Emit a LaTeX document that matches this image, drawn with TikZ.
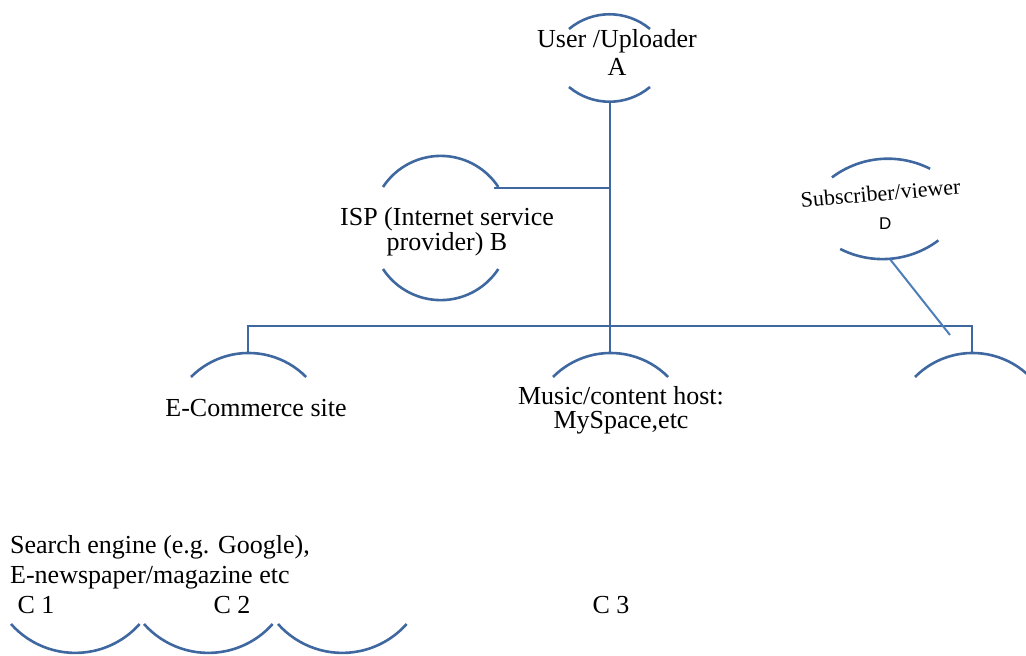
\documentclass[tikz,border=0pt]{standalone}
\usepackage{fontspec}
\setmainfont{Liberation Serif}
\newfontfamily\labelsans{Liberation Sans}
\definecolor{arcblue}{RGB}{64,104,160}
\definecolor{linkblue}{RGB}{78,126,186}

\begin{document}
\begin{tikzpicture}[x=1pt,y=-1pt,
    arcline/.style={draw=arcblue,line width=2.6pt},
    linkline/.style={draw=linkblue,line width=2pt},
    every node/.style={inner sep=0pt,font=\fontsize{26}{28}\selectfont}]
    \useasboundingbox (0,0) rectangle (1026,656);
    % user / uploader
    \draw[arcline] (569,29) arc[start angle=230,end angle=310,radius=63];
    \draw[arcline] (569,87) arc[start angle=130,end angle=50,radius=63];
    \node[align=center] (userA) at (617,52) {User /Uploader\\A};
    \coordinate (abot) at (610,101);
    % isp
    \draw[arcline] (383,187) arc[start angle=213.3,end angle=326.7,radius=69];
    \draw[arcline] (383,269) arc[start angle=146.7,end angle=33.3,radius=69];
    \node[align=center,font=\fontsize{26}{20}\selectfont] (ispB) at (447,232) {ISP (Internet service\\provider) B};
    \coordinate (bedge) at (494,188);
    \coordinate (bjoin) at (610,188);
    % subscriber
    \begin{scope}[rotate around={5:(884,210)}]
        \draw[arcline] (835,173) arc[start angle=238,end angle=302,radius=93];
        \draw[arcline] (837,245) arc[start angle=122,end angle=58,radius=93];
        \node[rotate=5,font=\fontsize{22}{24}\selectfont] (subD) at (882,193) {Subscriber/viewer};
        \node[font=\labelsans\fontsize{17}{20}\selectfont] (letterD) at (884,224) {D};
        \coordinate (dbot) at (886,260);
    \end{scope}
    \coordinate (dend) at (950,335);
    % hosts
    \draw[arcline] (191,377) arc[start angle=224.7,end angle=315.3,radius=81];
    \draw[arcline] (553,377) arc[start angle=224.7,end angle=315.3,radius=81];
    \draw[arcline] (915,377) arc[start angle=224.7,end angle=315.3,radius=81];
    \node (ecom) at (256,408) {E-Commerce site};
    \node[align=center,font=\fontsize{26}{24}\selectfont] (music) at (621,410) {Music/content host:\\MySpace,etc};
    \coordinate (hub) at (610,326);
    \coordinate (ectop) at (248,353);
    \coordinate (mutop) at (610,353);
    \coordinate (rtop) at (972,353);
    % search engines
    \node[anchor=west,align=left,font=\fontsize{26}{30}\selectfont] (search) at (10,562) {Search engine (e.g. Google),\\E-newspaper/magazine etc};
    \node (c1) at (36,605) {C 1};
    \node (c2) at (232,605) {C 2};
    \node (c3) at (611,605) {C 3};
    \foreach \x in {11,144,278}
        \draw[arcline] (\x,624) arc[start angle=138.4,end angle=41.6,radius=86];
    % links
    \draw[arcline] (abot) -- (hub) -- (mutop);
    \draw[arcline] (bedge) -- (bjoin);
    \draw[arcline] (ectop) |- (hub) -| (rtop);
    \draw[linkline] (dbot) -- (dend);
\end{tikzpicture}
\end{document}
